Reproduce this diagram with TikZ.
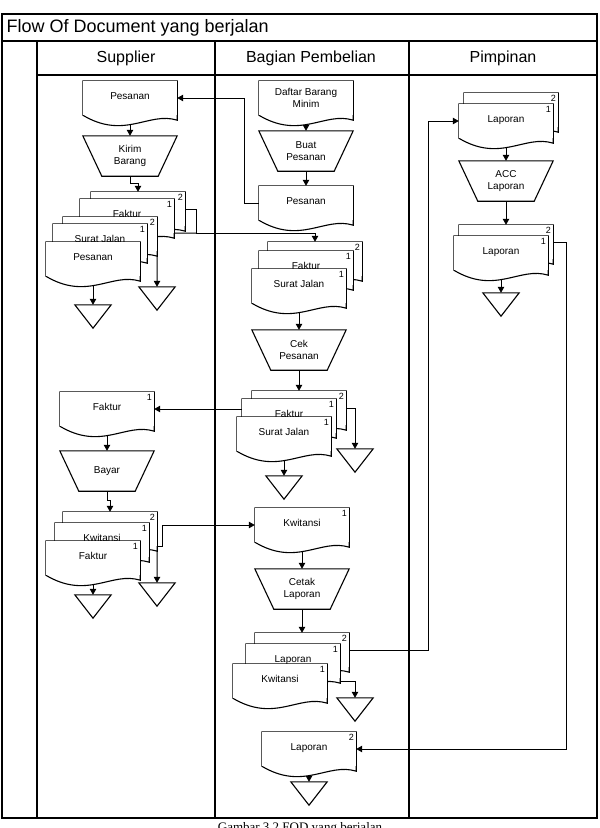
\documentclass[tikz,border=0pt]{standalone}
\usepackage{fontspec}
\setmainfont{Liberation Sans}
\newfontfamily\captionserif{Liberation Serif}
\usepackage{tikz}
\usetikzlibrary{arrows.meta,calc}
\pgfdeclarelayer{background}
\pgfsetlayers{background,main}
\tikzset{
  docline/.style={draw=black,line width=1.1pt},
  docbox/.style={draw=none,fill=white,inner sep=0pt,minimum width=94pt,minimum height=34pt,
    text height=7pt,text depth=4.5pt,align=center,font=\fontsize{10}{11.5}\selectfont,
    append after command={\pgfextra{
      \fill[white] (\tikzlastnode.south west)
        .. controls ($(\tikzlastnode.south west)+(42,25)$) and ($(\tikzlastnode.south west)+(66,-4)$)
        .. ($(\tikzlastnode.south east)+(0,5)$) -- (\tikzlastnode.south east) -- cycle;
      \draw[docline] (\tikzlastnode.north west) -- (\tikzlastnode.south west)
        .. controls ($(\tikzlastnode.south west)+(42,25)$) and ($(\tikzlastnode.south west)+(66,-4)$)
        .. ($(\tikzlastnode.south east)+(0,5)$) -- (\tikzlastnode.north east) -- cycle;}}},
  manualbox/.style={draw=none,inner sep=0pt,minimum width=94pt,minimum height=40pt,
    align=center,font=\fontsize{10}{11.5}\selectfont,
    append after command={\pgfextra{
      \draw[docline] (\tikzlastnode.north west) -- (\tikzlastnode.north east)
        -- ($(\tikzlastnode.south east)+(-19,0)$) -- ($(\tikzlastnode.south west)+(19,0)$) -- cycle;}}},
  archivebox/.style={draw=none,inner sep=0pt,minimum width=36pt,minimum height=23pt,
    append after command={\pgfextra{
      \draw[docline] (\tikzlastnode.north west) -- (\tikzlastnode.north east)
        -- (\tikzlastnode.south) -- cycle;}}},
  copynum/.style={anchor=north east,inner sep=2pt,font=\fontsize{9}{10}\selectfont},
  copyno/.style={label={[copynum]north east:#1}},
  flowarrow/.style={-{Triangle[length=6pt,width=6.5pt]},line width=1pt},
  flowline/.style={line width=1pt},
  swimframe/.style={line width=1.4pt},
  lanehead/.style={font=\fontsize{16}{19}\selectfont}
}
\begin{document}
\begin{tikzpicture}[x=1pt,y=-1pt]
  \useasboundingbox (0,0) rectangle (600,828);
  % swimlane frame
  \draw[swimframe] (2,14) rectangle (597,818);
  \draw[swimframe] (2,41) -- (597,41);
  \draw[swimframe] (37,75) -- (597,75);
  \draw[swimframe] (37,41) -- (37,818);
  \draw[swimframe] (215,41) -- (215,818);
  \draw[swimframe] (409,41) -- (409,818);
  \node[anchor=west,font=\fontsize{18}{21}\selectfont] (judul) at (3,28) {Flow Of Document yang berjalan};
  \node[lanehead] (hsupplier) at (126,58) {Supplier};
  \node[lanehead] (hpembelian) at (311,58) {Bagian Pembelian};
  \node[lanehead] (hpimpinan) at (503,58) {Pimpinan};
  \node[anchor=north,font=\captionserif\fontsize{13}{15}\selectfont] (caption) at (300,818.5) {Gambar 3.2 FOD yang berjalan};

  % Supplier
  \node[docbox] (spesanan) at (130,98) {Pesanan};
  \node[manualbox] (skirim) at (130,156) {Kirim\\Barang};
  \node[docbox,copyno=2] (sfakturtwo) at (138,209) {};
  \node[docbox,copyno=1] (sfakturone) at (127,216) {Faktur};
  \node[docbox,copyno=2] (ssjtwo) at (110,234) {};
  \node[docbox,copyno=1] (ssjone) at (100,241) {Surat Jalan};
  \node[docbox] (spesanantwo) at (93,259) {Pesanan};
  \node[archivebox] (sarsipone) at (93,316.5) {};
  \node[archivebox] (sarsiptwo) at (157,298.5) {};
  \node[docbox,copyno=1] (sfaktur) at (107,409) {Faktur};
  \node[manualbox] (sbayar) at (107,471) {Bayar};
  \node[docbox,copyno=2] (skwitansitwo) at (110,529) {};
  \node[docbox,copyno=1] (skwitansione) at (102,540) {Kwitansi};
  \node[docbox,copyno=1] (sfakturc) at (93,558) {Faktur};
  \node[archivebox] (sarsipthree) at (93,606.5) {};
  \node[archivebox] (sarsipfour) at (157,594.5) {};

  % Bagian Pembelian
  \node[docbox,text height=,text depth=] (bdaftar) at (306,98) {Daftar Barang\\Minim};
  \node[manualbox] (bbuat) at (306,151) {Buat\\Pesanan};
  \node[docbox] (bpesanan) at (306,203) {Pesanan};
  \node[docbox,copyno=2] (bfakturtwo) at (315,259) {};
  \node[docbox,copyno=1] (bfakturone) at (306,268) {Faktur};
  \node[docbox,copyno=1] (bsjone) at (299,286) {Surat Jalan};
  \node[manualbox] (bcek) at (299,350) {Cek\\Pesanan};
  \node[docbox,copyno=2] (bfakturtwob) at (299,408) {};
  \node[docbox,copyno=1] (bfakturoneb) at (289,416) {Faktur};
  \node[docbox,copyno=1] (bsjoneb) at (284,434) {Surat Jalan};
  \node[archivebox] (barsiptwo) at (284,487.5) {};
  \node[archivebox] (barsipthree) at (355,460.5) {};
  \node[docbox,copyno=1] (bkwitansi) at (302,525) {Kwitansi};
  \node[manualbox] (bcetak) at (302,589) {Cetak\\Laporan};
  \node[docbox,copyno=2] (blaporantwo) at (302,650) {};
  \node[docbox,copyno=1] (blaporanone) at (293,661) {Laporan};
  \node[docbox,copyno=1] (bkwitansitwo) at (280,681) {Kwitansi};
  \node[archivebox] (barsipfour) at (355,709.5) {};
  \node[docbox,copyno=2] (blaporanakhir) at (309,749) {Laporan};
  \node[archivebox] (barsipfive) at (309,793.5) {};

  % Pimpinan
  \node[docbox,copyno=2] (plaporantwo) at (511,110) {};
  \node[docbox,copyno=1] (plaporanone) at (506,121) {Laporan};
  \node[manualbox] (pacc) at (506,181) {ACC\\Laporan};
  \node[docbox,copyno=2] (plaporantwob) at (506,242) {};
  \node[docbox,copyno=1] (plaporanoneb) at (501,253) {Laporan};
  \node[archivebox] (parsip) at (501,304.5) {};

  \coordinate (sjoin) at (196,233);
  \begin{pgfonlayer}{background}
    \draw[flowarrow] (spesanan.south) -- (skirim.north);
    \draw[flowarrow] (skirim.south) -- ++(0,7) -| (sfakturtwo.north);
    \draw[flowarrow] (sfakturtwo.east) -| (sjoin) -| (bfakturtwo.north);
    \draw[flowline] (sfakturone.south east) -- (sjoin);
    \draw[flowarrow] (ssjtwo.south east) -- (sarsiptwo.north);
    \draw[flowarrow] (spesanantwo.south) -- (sarsipone.north);
    \draw[flowarrow] (bdaftar.south) -- (bbuat.north);
    \draw[flowarrow] (bbuat.south) -- (bpesanan.north);
    \draw[flowarrow] (bpesanan.west) -- ++(-14,0) |- (spesanan.east);
    \draw[flowarrow] (bsjone.south) -- (bcek.north);
    \draw[flowarrow] (bcek.south) -- (bfakturtwob.north);
    \draw[flowarrow] (bfakturoneb.west |- sfaktur.east) -- (sfaktur.east);
    \draw[flowarrow] (bfakturtwob.east) -| (barsipthree.north);
    \draw[flowarrow] (bsjoneb.south) -- (barsiptwo.north);
    \draw[flowarrow] (sfaktur.south) -- (sbayar.north);
    \draw[flowarrow] (sbayar.south) -- ++(0,9) -| (skwitansitwo.north);
    \draw[flowarrow] (skwitansitwo.south east) -- (sarsipfour.north);
    \draw[flowarrow] (skwitansitwo.south east) -- ++(5,0) |- (bkwitansi.west);
    \draw[flowarrow] (sfakturc.south) -- (sarsipthree.north);
    \draw[flowarrow] (bkwitansi.south) -- (bcetak.north);
    \draw[flowarrow] (bcetak.south) -- (blaporantwo.north);
    \draw[flowarrow] (blaporantwo.east) -- ++(79,0) |- (plaporanone.west);
    \draw[flowarrow] (bkwitansitwo.east) -| (barsipfour.north);
    \draw[flowarrow] (blaporanakhir.south) -- (barsipfive.north);
    \draw[flowarrow] (plaporanone.south) -- (pacc.north);
    \draw[flowarrow] (pacc.south) -- (plaporantwob.north);
    \draw[flowarrow] (plaporanoneb.south) -- (parsip.north);
    \draw[flowarrow] (plaporantwob.east) -- ++(13,0) |- (blaporanakhir.east);
  \end{pgfonlayer}
\end{tikzpicture}
\end{document}
